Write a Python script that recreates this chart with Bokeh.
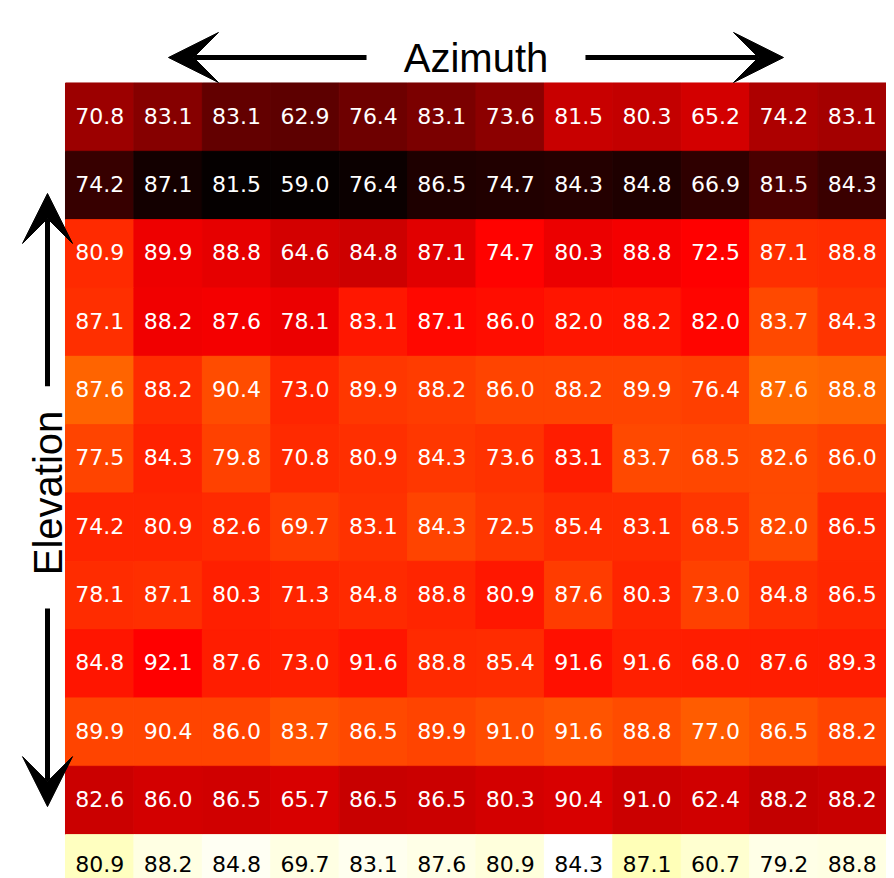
import numpy as np
from bokeh.plotting import figure
from bokeh.models import ColumnDataSource, LinearColorMapper, Range1d, Label, Arrow, VeeHead
from bokeh.transform import transform
from bokeh.core.properties import value
from bokeh.embed import file_html
from bokeh.resources import INLINE

# Displayed percentages, rows from top (highest elevation) to bottom, 12 azimuth columns
vals_r01 = [70.8, 83.1, 83.1, 62.9, 76.4, 83.1, 73.6, 81.5, 80.3, 65.2, 74.2, 83.1]
vals_r02 = [74.2, 87.1, 81.5, 59.0, 76.4, 86.5, 74.7, 84.3, 84.8, 66.9, 81.5, 84.3]
vals_r03 = [80.9, 89.9, 88.8, 64.6, 84.8, 87.1, 74.7, 80.3, 88.8, 72.5, 87.1, 88.8]
vals_r04 = [87.1, 88.2, 87.6, 78.1, 83.1, 87.1, 86.0, 82.0, 88.2, 82.0, 83.7, 84.3]
vals_r05 = [87.6, 88.2, 90.4, 73.0, 89.9, 88.2, 86.0, 88.2, 89.9, 76.4, 87.6, 88.8]
vals_r06 = [77.5, 84.3, 79.8, 70.8, 80.9, 84.3, 73.6, 83.1, 83.7, 68.5, 82.6, 86.0]
vals_r07 = [74.2, 80.9, 82.6, 69.7, 83.1, 84.3, 72.5, 85.4, 83.1, 68.5, 82.0, 86.5]
vals_r08 = [78.1, 87.1, 80.3, 71.3, 84.8, 88.8, 80.9, 87.6, 80.3, 73.0, 84.8, 86.5]
vals_r09 = [84.8, 92.1, 87.6, 73.0, 91.6, 88.8, 85.4, 91.6, 91.6, 68.0, 87.6, 89.3]
vals_r10 = [89.9, 90.4, 86.0, 83.7, 86.5, 89.9, 91.0, 91.6, 88.8, 77.0, 86.5, 88.2]
vals_r11 = [82.6, 86.0, 86.5, 65.7, 86.5, 86.5, 80.3, 90.4, 91.0, 62.4, 88.2, 88.2]
vals_r12 = [80.9, 88.2, 84.8, 69.7, 83.1, 87.6, 80.9, 84.3, 87.1, 60.7, 79.2, 88.8]

# Cell colour intensity (0-100 on a "hot" scale)
heat_r01 = [22.3, 19.5, 14.3, 13.5, 15.7, 17.7, 20.3, 28.6, 27.9, 30.3, 24.9, 23.5]
heat_r02 = [8.0, 3.1, 1.1, 0.9, 1.7, 4.3, 4.9, 5.2, 4.6, 6.9, 10.9, 8.3]
heat_r03 = [42.8, 34.1, 32.9, 30.3, 29.5, 32.1, 37.1, 33.8, 34.9, 36.5, 43.7, 43.1]
heat_r04 = [43.4, 34.6, 34.9, 33.8, 40.1, 37.7, 38.3, 39.5, 39.8, 37.4, 47.6, 44.3]
heat_r05 = [51.4, 43.1, 47.9, 41.9, 44.6, 45.5, 46.7, 46.7, 46.7, 45.8, 52.3, 51.4]
heat_r06 = [46.7, 41.6, 46.1, 42.8, 43.7, 44.6, 44.0, 41.0, 47.3, 47.0, 47.6, 46.1]
heat_r07 = [41.9, 41.9, 42.8, 45.5, 44.0, 46.7, 44.6, 43.1, 43.1, 44.9, 47.3, 42.8]
heat_r08 = [43.1, 43.7, 41.3, 41.9, 42.8, 41.9, 40.1, 45.5, 41.9, 46.4, 43.7, 42.5]
heat_r09 = [39.5, 36.5, 40.7, 41.3, 39.5, 42.8, 43.1, 38.9, 41.3, 40.7, 40.7, 40.7]
heat_r10 = [46.7, 46.7, 46.7, 48.8, 47.6, 46.7, 47.9, 49.1, 47.9, 50.2, 48.5, 46.7]
heat_r11 = [29.2, 30.3, 29.8, 30.9, 28.6, 29.2, 30.3, 30.9, 29.2, 29.8, 28.0, 28.6]
heat_r12 = [93.7, 96.9, 98.5, 96.9, 98.1, 97.3, 96.1, 100.0, 92.9, 95.3, 97.3, 96.9]

value_rows = [vals_r01, vals_r02, vals_r03, vals_r04, vals_r05, vals_r06,
              vals_r07, vals_r08, vals_r09, vals_r10, vals_r11, vals_r12]
heat_rows = [heat_r01, heat_r02, heat_r03, heat_r04, heat_r05, heat_r06,
             heat_r07, heat_r08, heat_r09, heat_r10, heat_r11, heat_r12]

# "hot" colour palette
def hot_palette(n=256):
    out = []
    for i in range(n):
        t = i / (n - 1)
        r = min(1.0, max(0.0, t / 0.365))
        g = min(1.0, max(0.0, (t - 0.365) / 0.381))
        b = min(1.0, max(0.0, (t - 0.746) / 0.254))
        out.append("#%02x%02x%02x" % (round(r * 255), round(g * 255), round(b * 255)))
    return out

mapper = LinearColorMapper(palette=hot_palette(), low=0, high=100)

xs, ys, ty, labels, heats, tcolors = [], [], [], [], [], []
for ri, (vrow, hrow) in enumerate(zip(value_rows, heat_rows)):
    for ci, (v, h) in enumerate(zip(vrow, hrow)):
        xs.append(ci + 0.5)
        ys.append(ri + 0.5)
        ty.append(ri + 0.48 if ri < 11 else ri + 0.43)
        labels.append(f"{v:.1f}")
        heats.append(h)
        tcolors.append("black" if h > 80 else "white")

src = ColumnDataSource(dict(x=xs, y=ys, ty=ty, label=labels, heat=heats, tcolor=tcolors))

p = figure(width=886, height=878, output_backend="svg", toolbar_location=None,
           x_range=Range1d(-0.950, 12.0), y_range=Range1d(11.642, -1.207),
           x_axis_location=None, y_axis_location=None, min_border=0,
           background_fill_color="white", border_fill_color="white")
p.outline_line_color = None
p.xgrid.visible = False
p.ygrid.visible = False

p.rect(x="x", y="y", width=1, height=1, source=src,
       fill_color=transform("heat", mapper), line_color=transform("heat", mapper), line_width=1)
p.text(x="x", y="ty", text="label", source=src, text_align="center", text_baseline="middle",
       text_font=value("DejaVu Sans"), text_font_size="22px", text_color="tcolor")

# Azimuth label with arrows
p.add_layout(Label(x=6.0, y=-0.36, text="Azimuth", text_align="center", text_baseline="middle",
                   text_font="Liberation Sans", text_font_size="40px", text_color="black"))
p.add_layout(Arrow(x_start=4.4, y_start=-0.373, x_end=1.505, y_end=-0.373, line_width=5,
                   end=VeeHead(size=50, fill_color="black", line_color="black")))
p.add_layout(Arrow(x_start=7.6, y_start=-0.373, x_end=10.495, y_end=-0.373, line_width=5,
                   end=VeeHead(size=50, fill_color="black", line_color="black")))

# Elevation label with arrows
p.add_layout(Label(x=-0.263, y=6.0, text="Elevation", text_align="center", text_baseline="middle",
                   angle=np.pi / 2, text_font="Liberation Sans", text_font_size="40px",
                   text_color="black"))
p.add_layout(Arrow(x_start=-0.263, y_start=4.44, x_end=-0.263, y_end=1.617, line_width=5,
                   end=VeeHead(size=50, fill_color="black", line_color="black")))
p.add_layout(Arrow(x_start=-0.263, y_start=7.69, x_end=-0.263, y_end=10.59, line_width=5,
                   end=VeeHead(size=50, fill_color="black", line_color="black")))

open("out.html", "w").write(file_html(p, INLINE))
